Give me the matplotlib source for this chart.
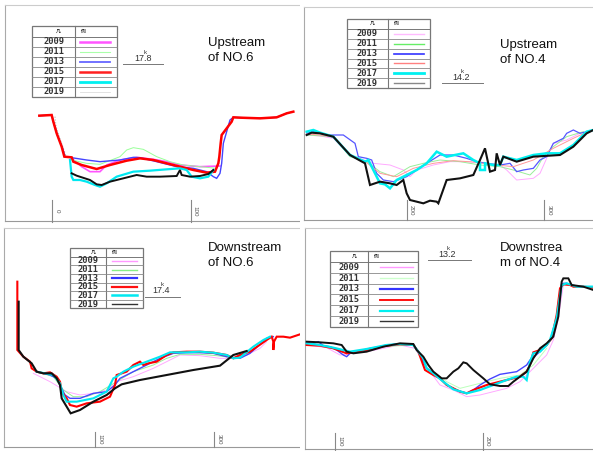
import matplotlib
matplotlib.use("Agg")
import matplotlib.pyplot as plt
from matplotlib.patches import Rectangle

plt.rcParams['font.family'] = ['Liberation Sans', 'Noto Sans CJK SC', 'DejaVu Sans']

YEARS = ["2009", "2011", "2013", "2015", "2017", "2019"]

# 断面数据 (起点距, 深度)  -- 按图读取
# Upstream of NO.6  (17.8k)
P1_2009 = [(215,475),(245,500),(270,515),(300,515),(320,495),(360,480),(410,472),(460,478),(500,485),(540,495),(600,500),(660,498)]
P1_2011 = [(215,480),(260,490),(300,493),(360,470),(380,450),(400,443),(430,448),(470,470),(510,485),(550,495),(600,500),(650,505)]
P1_2013 = [(118,347),(155,345),(160,365),(172,405),(188,445),(195,470),(260,480),(300,485),(360,480),(400,472),(420,473),(470,485),(530,500),(580,505),(620,515),(640,530),(650,535),(660,520),(665,490),(670,430),(690,360),(700,352),(780,355),(830,352),(860,340)]
P1_2015 = [(118,347),(155,345),(160,365),(170,400),(185,440),(193,470),(215,472),(220,485),(245,495),(290,507),(330,495),(380,482),(420,475),(460,480),(500,490),(540,500),(580,510),(620,518),(645,515),(655,490),(658,470),(662,430),(665,405),(680,385),(695,365),(700,352),(720,353),(780,355),(830,352),(860,340),(880,335)]
P1_2017 = [(210,480),(215,530),(220,540),(240,540),(260,545),(285,555),(300,560),(320,550),(350,530),(400,515),(450,512),(500,508),(540,505),(560,510),(575,530),(600,535),(625,530),(640,510)]
P1_2019 = [(215,520),(230,527),(270,540),(290,553),(305,555),(330,545),(370,535),(410,525),(440,530),(480,530),(530,528),(540,510),(545,525),(570,530),(600,528),(625,522),(640,510)]
P1_BANK = [(165,350),(168,380),(178,410),(188,440),(198,468)]

# Upstream of NO.4  (14.2k)
P2_2009 = [(20,405),(60,408),(100,415),(150,465),(220,490),(270,495),(310,510),(330,530),(350,510),(400,495),(450,485),(500,485),(600,495),(620,510),(650,540),(700,535),(720,520),(760,430),(800,420),(840,400)]
P2_2011 = [(20,405),(100,410),(150,470),(200,485),(240,515),(280,530),(330,500),(370,490),(420,480),(480,485),(540,495),(600,500),(640,510),(690,525),(710,505),(730,470),(760,440),(800,410),(850,395)]
P2_2013 = [(20,400),(40,395),(80,405),(130,405),(165,430),(175,470),(200,475),(215,480),(230,520),(250,540),(280,545),(320,530),(380,490),(420,465),(460,465),(500,475),(530,485),(560,490),(600,495),(630,490),(650,515),(670,510),(700,505),(720,480),(740,470),(760,430),(790,415),(800,400),(820,390),(840,400),(860,395)]
P2_2015 = [(20,402),(60,405),(100,412),(150,466),(200,488),(240,520),(290,530),(340,505),(400,490),(460,482),(520,486),(580,494),(640,500),(700,480),(760,445),(820,415),(870,392)]
P2_2017 = [(20,395),(40,390),(60,398),(100,410),(150,465),(195,485),(205,480),(225,520),(240,550),(255,553),(270,565),(290,540),(320,525),(350,510),(380,490),(410,455),(440,470),(490,460),(520,480),(540,490),(540,510),(555,510),(555,490),(580,495),(600,495),(610,470),(650,480),(700,465),(740,460),(780,460),(820,435),(860,395),(880,390)]
P2_2019 = [(20,405),(35,398),(60,400),(100,410),(150,465),(195,490),(210,555),(240,545),(270,550),(290,555),(310,540),(320,580),(330,600),(350,605),(370,610),(390,602),(410,605),(415,610),(440,540),(480,535),(520,525),(540,480),(555,445),(570,515),(585,510),(590,460),(600,495),(610,470),(650,485),(700,470),(780,465),(820,440),(860,400),(880,390)]

# Downstream of NO.6  (17.4k)
P3_2009 = [(100,445),(150,470),(200,500),(240,510),(280,505),(320,495),(350,470),(400,455),(460,430),(510,405),(540,390),(600,392),(660,400),(700,400),(740,390),(780,370),(800,350)]
P3_2011 = [(110,440),(160,455),(190,495),(220,515),(260,515),(300,500),(350,470),(400,440),(460,420),(500,400),(540,388),(600,388),(650,392),(700,398),(740,390)]
P3_2013 = [(110,440),(150,450),(170,460),(185,490),(195,510),(210,520),(240,520),(280,505),(320,500),(345,480),(360,460),(400,440),(440,420),(480,400),(520,385),(560,383),(600,383),(640,385),(680,395),(720,400),(750,385),(800,340),(820,335)]
P3_2015 = [(52,170),(52,375),(70,395),(90,410),(95,430),(110,440),(130,445),(150,442),(170,455),(180,470),(185,500),(200,520),(210,540),(230,545),(260,535),(300,530),(330,515),(345,480),(350,450),(380,440),(400,420),(410,415),(420,410),(430,420),(445,415),(470,410),(500,390),(520,382),(560,380),(600,380),(640,383),(680,390),(700,400),(720,390),(750,380),(800,345),(815,335),(820,350),(820,375),(822,350),(830,335),(850,335),(870,338),(900,328)]
P3_2017 = [(110,440),(160,450),(180,475),(190,510),(200,530),(230,530),(280,520),(320,500),(340,460),(350,455),(370,440),(400,425),(440,410),(480,395),(510,382),(560,382),(600,380),(640,383),(680,390),(700,400),(720,398),(760,365),(790,345),(810,335)]
P3_2019 = [(56,230),(56,375),(70,395),(95,415),(110,440),(130,445),(155,445),(170,460),(180,480),(185,520),(200,545),(212,565),(240,555),(280,530),(320,510),(345,490),(365,478),(420,465),(500,450),(580,435),(660,422),(700,390),(740,378)]

# Downstream of NO.4  (13.2k)
P4_2009 = [(20,360),(80,368),(120,390),(200,380),(300,360),(345,370),(370,410),(390,440),(420,480),(460,495),(500,515),(540,510),(580,500),(620,490),(660,470),(690,440),(710,420),(740,390),(760,345),(775,280),(790,180)]
P4_2011 = [(20,358),(100,368),(150,380),(250,365),(340,360),(370,400),(400,440),(440,470),(480,490),(520,480),(560,470),(600,460),(660,450),(700,420),(740,370)]
P4_2013 = [(20,352),(40,355),(55,350),(70,362),(90,365),(110,375),(130,390),(140,395),(150,385),(170,380),(190,375),(210,370),(240,365),(260,360),(300,357),(340,360),(355,380),(380,430),(410,450),(440,480),(470,495),(500,505),(520,495),(540,480),(570,462),(600,448),(650,440),(680,420),(690,405),(720,380),(740,360),(755,340),(770,280),(785,175),(800,175),(830,185),(880,185)]
P4_2015 = [(20,360),(60,362),(100,370),(140,385),(200,375),(260,362),(300,358),(340,360),(355,380),(375,435),(400,450),(420,460),(440,480),(460,490),(480,500),(500,505),(520,495),(560,480),(600,470),(640,460),(660,455),(680,440),(690,420),(700,382),(720,375),(740,360),(755,340),(770,270),(780,190),(790,178),(810,180),(820,185),(850,185),(880,188)]
P4_2017 = [(20,355),(60,360),(100,368),(150,380),(200,372),(260,360),(300,357),(340,360),(355,380),(370,400),(380,430),(400,445),(430,470),(460,493),(500,505),(540,495),(580,480),(620,465),(650,455),(670,455),(680,465),(690,410),(700,385),(720,380),(740,360),(750,345),(770,280),(785,180),(800,175),(830,185),(880,185)]
P4_2019 = [(20,350),(60,352),(100,355),(125,360),(140,380),(160,385),(200,380),(250,365),(300,355),(340,357),(350,375),(370,395),(385,420),(400,440),(425,460),(440,460),(460,440),(475,430),(490,412),(500,415),(520,435),(550,460),(570,478),(600,483),(625,483),(640,470),(660,455),(680,440),(700,400),(720,370),(740,355),(760,335),(775,275),(785,170),(790,160),(805,160),(815,180),(850,185),(880,195)]

TITLES = ["Upstream\nof NO.6", "Upstream\nof NO.4", "Downstream\nof NO.6", "Downstrea\nm of NO.4"]
KM = ["17.8", "14.2", "17.4", "13.2"]
TICKS = [["0", "100"], ["200", "300"], ["100", "300"], ["100", "200"]]

panels = [
    dict(cell=(0, 0, 300, 225), data=[P1_2009, P1_2011, P1_2013, P1_2015, P1_2017, P1_2019],
         col=['#ff55ff', '#99ff99', '#4444ff', '#ff0000', '#00e8f0', '#111111'],
         lw=[1.2, 0.7, 1.0, 1.8, 1.6, 1.4],
         leg=(97, 77, 350, 290, 225, 110), legcol=['#ff55ff', '#aaffaa', '#6666ff', '#ff2020', '#00f0f0', '#dddddd'],
         leglw=[1.8, 0.8, 1.3, 1.8, 2.0, 0.6], legline=(240, 330),
         title=(625, 110), km=(430, 188, 370, 490, 192), ticks=(157, 572, 600, 665),
         frame=(15, 15, 663, 900)),
    dict(cell=(300, 0, 293, 225), data=[P2_2009, P2_2011, P2_2013, P2_2015, P2_2017, P2_2019],
         col=['#ffaaff', '#99ee99', '#5555ff', '#ff9999', '#00f0f0', '#111111'],
         lw=[0.7, 0.7, 0.9, 0.7, 1.8, 1.5],
         leg=(140, 57, 390, 265, 263, 86), legcol=['#ffbbff', '#66ee66', '#3333ff', '#ff8080', '#00f0f0', '#888888'],
         leglw=[1.0, 1.0, 1.2, 1.0, 2.0, 1.0], legline=(282, 372),
         title=(600, 118), km=(483, 246, 425, 548, 250), ticks=(320, 733, 600, 660),
         frame=(12, 20, 660, 879)),
    dict(cell=(0, 225, 300, 226), data=[P3_2009, P3_2011, P3_2013, P3_2015, P3_2017, P3_2019],
         col=['#ffaaff', '#99ee99', '#4444ff', '#ff0000', '#00e8f0', '#111111'],
         lw=[0.7, 0.7, 1.0, 1.5, 1.5, 1.5],
         leg=(210, 68, 428, 250, 318, 95), legcol=['#ff99ff', '#88ee88', '#3333ff', '#ff1010', '#00e8f0', '#333333'],
         leglw=[1.0, 1.0, 1.6, 1.6, 1.8, 1.0], legline=(335, 410),
         title=(625, 52), km=(482, 211, 435, 540, 215), ticks=(285, 643, 620, 665),
         frame=(12, 10, 665, 900)),
    dict(cell=(300, 225, 293, 226), data=[P4_2009, P4_2011, P4_2013, P4_2015, P4_2017, P4_2019],
         col=['#ffaaff', '#bbffbb', '#4444ff', '#ff0000', '#00e8f0', '#111111'],
         lw=[0.7, 0.7, 1.0, 1.5, 1.6, 1.4],
         leg=(90, 78, 355, 305, 205, 111), legcol=['#ff99ff', '#ccffcc', '#3333ff', '#ff1010', '#00f0f0', '#333333'],
         leglw=[1.0, 1.0, 1.6, 1.4, 1.6, 1.0], legline=(240, 338),
         title=(600, 52), km=(440, 101, 383, 512, 105), ticks=(105, 548, 625, 675),
         frame=(15, 10, 672, 879)),
]

W, H = 593, 451
fig = plt.figure(figsize=(W / 100, H / 100), dpi=100)
fig.patch.set_facecolor('white')

for i, p in enumerate(panels):
    cx, cy, cw, ch = p['cell']
    ax = fig.add_axes([cx / W, 1 - (cy + ch) / H, cw / W, ch / H])
    ax.set_xlim(0, cw * 3)
    ax.set_ylim(ch * 3, 0)
    ax.axis('off')

    # 图框
    fl, ft, fb, fr = p['frame']
    ax.plot([fl, fl], [ft, fb], color='#aaaaaa', lw=0.8)
    ax.plot([fl, fr], [ft, ft], color='#cccccc', lw=0.8)
    ax.plot([fl, fr], [fb, fb], color='#999999', lw=0.8)

    # 岸坡灰线 (仅第一幅)
    if i == 0:
        ax.plot([q[0] for q in P1_BANK], [q[1] for q in P1_BANK], color='#bbbbbb',
                lw=0.8, ls=(0, (1, 1.5)))

    # 断面线
    for pts, c, w in zip(p['data'], p['col'], p['lw']):
        xs = [q[0] for q in pts]
        ys = [q[1] for q in pts]
        ax.plot(xs, ys, color=c, lw=w, solid_joinstyle='miter')

    # 凡例
    x0, y0, x1, y1, xd, yh = p['leg']
    ax.add_patch(Rectangle((x0, y0), x1 - x0, y1 - y0, fill=True, fc='white',
                           ec='#777777', lw=0.9, zorder=5))
    ax.plot([x0, x1], [yh, yh], color='#777777', lw=0.7, zorder=6)
    ax.plot([xd, xd], [y0, y1], color='#777777', lw=0.8, zorder=6)
    ax.text((x0 + xd) / 2 + 15, (y0 + yh) / 2, "凡", fontsize=3.5, ha='center', va='center',
            family=['Noto Sans CJK SC'], zorder=7)
    ax.text(xd + 25, (y0 + yh) / 2, "例", fontsize=3.5, ha='center', va='center',
            family=['Noto Sans CJK SC'], zorder=7)
    rh = (y1 - yh) / 6
    lx0, lx1 = p['legline']
    for k, yr in enumerate(YEARS):
        yc = yh + rh * (k + 0.5)
        if k > 0:
            ax.plot([x0, x1], [yh + rh * k, yh + rh * k], color='#888888', lw=0.6, zorder=6)
        ax.text((x0 + xd) / 2, yc, yr, fontsize=6.3, ha='center', va='center',
                family=['DejaVu Sans Mono'], weight='bold', color='#333333', zorder=7)
        ax.plot([lx0, lx1], [yc, yc], color=p['legcol'][k], lw=p['leglw'][k], zorder=7)

    # 标题
    tx, ty = p['title']
    ax.text(tx, ty, TITLES[i], fontsize=9.5, ha='left', va='top', linespacing=1.35,
            family=['Liberation Sans', 'DejaVu Sans'], color='#111111')

    # 断面里程
    kx, ky, lxa, lxb, ly = p['km']
    ax.text(kx, ky, KM[i], fontsize=6.5, ha='center', va='bottom', color='#333333',
            family=['Liberation Sans Narrow', 'Liberation Sans'])
    ax.text(kx + 5, ky - 24, "k", fontsize=4.5, ha='center', va='bottom', color='#333333')
    ax.plot([lxa, lxb], [ly, ly], color='#777777', lw=0.7)

    # 起点距刻度
    t1, t2, ty0, ty1 = p['ticks']
    for tx_, lab in zip([t1, t2], TICKS[i]):
        ax.plot([tx_, tx_], [ty0, ty1], color='#888888', lw=0.8)
        ax.text(tx_ + 6, (ty0 + ty1) / 2, lab, fontsize=4.5, rotation=-90, ha='left', va='center',
                color='#555555')

fig.savefig("out.png", dpi=100)
